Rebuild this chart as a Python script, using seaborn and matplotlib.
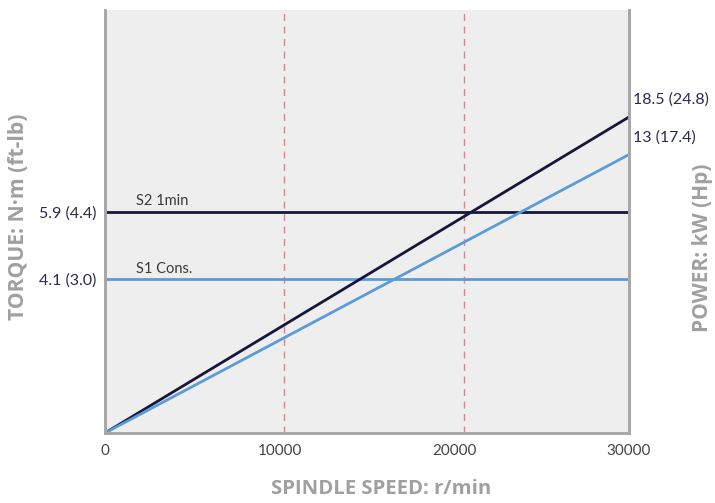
import matplotlib
matplotlib.use("Agg")
import matplotlib.pyplot as plt
import seaborn as sns
import pandas as pd

# ---- data ----
speed = [0, 30000]                      # r/min
speed_ticks = [0, 10000, 20000, 30000]
speed_marks = [10250, 20570]            # dashed reference speeds
torque_names = ["S2 1min", "S1 Cons."]
torque_nm = [5.9, 4.1]
torque_labels = ["5.9 (4.4)", "4.1 (3.0)"]
power_names = ["S2 1min", "S1 Cons."]
power_end = [18.5, 16.3]                # end level read on the kW scale
power_labels = ["18.5 (24.8)", "13 (17.4)"]

navy = "#16163a"
blue = "#5b9bd8"
colors = [navy, blue]

sns.set_theme(style="white")
plt.rcParams["font.family"] = ["Lato", "DejaVu Sans"]
title_font = ["Open Sans", "DejaVu Sans"]

fig = plt.figure(figsize=(7.15, 5.03), dpi=100)
ax = fig.add_axes([0.1469, 0.1392, 0.7327, 0.8410])
ax.set_facecolor("#eeeeee")

# torque lines
tdf = pd.DataFrame({
    "speed": [s for _ in torque_nm for s in speed],
    "torque": [t for t in torque_nm for _ in speed],
    "curve": [n for n in torque_names for _ in speed],
})
sns.lineplot(data=tdf, x="speed", y="torque", hue="curve", palette=colors,
             linewidth=2, legend=False, ax=ax)
ax.set_xlim(0, 30000)
ax.set_ylim(0, 11.29)

for xm in speed_marks:
    ax.axvline(xm, color="#e0808f", lw=1, ls=(0, (5, 4)), zorder=1)

# power lines on twin axis
ax2 = ax.twinx()
pdf = pd.DataFrame({
    "speed": [s for _ in power_end for s in speed],
    "power": [v for p in power_end for v in (0, p)],
    "curve": [n for n in power_names for _ in speed],
})
sns.lineplot(data=pdf, x="speed", y="power", hue="curve", palette=colors,
             linewidth=2, legend=False, ax=ax2)
ax2.set_ylim(0, 24.77)
ax2.set_yticks([])
ax2.set_ylabel("")

# torque labels
ax.set_yticks(torque_nm)
ax.set_yticklabels(torque_labels, color="#2a2a55", fontsize=11.5)
ax.tick_params(axis="y", length=0, pad=6)
for name, t in zip(torque_names, torque_nm):
    ax.annotate(name, (1800, t), xytext=(0, 7.5), textcoords="offset points",
                color="#3a3a3a", fontsize=10.5, va="center", ha="left")

# power end labels
for lab, p in zip(power_labels, power_end):
    ax2.annotate(lab, (30000, p), xytext=(3, 12.5), textcoords="offset points",
                 color="#2a2a55", fontsize=11.5, va="center", ha="left",
                 annotation_clip=False)

ax.set_xticks(speed_ticks)
ax.set_xticklabels([str(v) for v in speed_ticks], color="#444444", fontsize=11)
ax.tick_params(axis="x", length=0, pad=8)

for a in (ax, ax2):
    a.spines["top"].set_visible(False)
    for s in ("left", "right", "bottom"):
        a.spines[s].set_color("#a8a8a8")
        a.spines[s].set_linewidth(2)

ax.set_xlabel("SPINDLE SPEED: r/min", color="#a0a0a0", fontsize=14.6,
              fontweight="bold", family=title_font)
ax.xaxis.set_label_coords(0.527, -0.108)
ax.set_ylabel("TORQUE: N·m (ft-lb)", color="#a0a0a0", fontsize=15.2,
              fontweight="bold", family=title_font)
ax.yaxis.set_label_coords(-0.146, 0.51)
fig.text(0.983, 0.507, "POWER: kW (Hp)", color="#a0a0a0", fontsize=15,
         fontweight="bold", rotation=90, ha="center", va="center",
         family=title_font)

fig.savefig("out.png", dpi=100)
